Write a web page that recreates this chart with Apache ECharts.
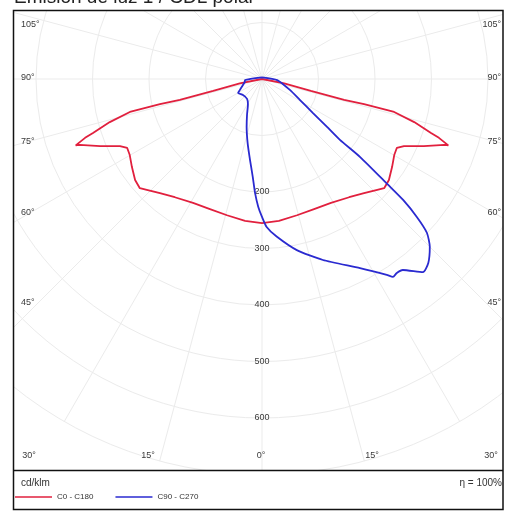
<!DOCTYPE html>
<html><head><meta charset="utf-8">
<script src="https://cdn.jsdelivr.net/npm/echarts@6/dist/echarts.min.js"></script>
<style>html,body{margin:0;padding:0;background:#fff}#c{width:509px;height:512px}</style>
</head><body><div id="c"></div>
<script>
// C0 - C180 half profile (symmetric): angle from nadir (deg), intensity (cd/klm)
const redAngles = [0, 6.8, 14.4, 21.8, 29.1, 36.4, 41.8, 45.8, 48.2, 51.5, 55.9, 60.1, 62.9, 64.7, 67.5, 70.1, 70.4, 71.6, 72.3, 74.2, 76, 76.2, 75.8, 76.3, 79, 90];
const redValues = [255, 253, 249, 248, 251, 260, 271, 282, 290, 287, 278, 270, 268, 278, 310, 343, 350, 330, 314, 280, 241, 186, 150, 89, 40, 0];
// C90 - C270 path: signed angle (negative = left side), intensity (cd/klm)
const blueAngles = [180, -86.6, -80, -63.4, -59.7, -50, -36.9, -29.2, -22.6, -17.8, -12.5, -8.4, -5.4, -3.5, -1.7, 0, 1.8, 5.3, 11.5, 18.6, 27.4, 32.5, 33.5, 34.8, 36.4, 39.8, 42.1, 45, 47, 48.3, 49.4, 50, 51.5, 52, 53.6, 56.3, 61, 68.6, 86, 180];
const blueValues = [3, 30, 31, 44, 49, 44, 44, 51, 69, 89, 117, 145, 174, 202, 226, 244, 262, 280, 309, 338, 377, 411, 420, 418, 420, 445, 439, 420, 399, 367, 329, 291, 222, 175, 143, 108, 77, 53, 27, 3];
const radialTicks = [200, 300, 400, 500, 600];
const sideAngleLabels = ['105°', '90°', '75°', '60°', '45°'];
const bottomAngleLabels = ['30°', '15°', '0°', '15°', '30°'];
const seriesNames = ['C0 - C180', 'C90 - C270'];
const titleText = 'Emisión de luz 1 / CDL polar';
const unitText = 'cd/klm';
const effText = 'η = 100%';

const toAxis = a => (a < 0 ? 360 + a : a);
const half = redAngles.map((a, i) => [redValues[i], a]);
const redData = [
  ...half.slice().reverse().map(([v, a]) => [v, a === 0 ? 0 : 360 - a]),
  ...half.slice(1).map(([v, a]) => [v, a])
];
const blueData = blueAngles.map((a, i) => [blueValues[i], toAxis(a)]);

const FONT = '"Liberation Sans", Arial, sans-serif';
const sideY = [25, 78, 142, 213, 303];
const bottomX = [29, 148, 261, 372, 491];
const txt = (text, x, y, align, size, color) => ({
  type: 'text', z: 60, silent: true,
  style: { text, x, y, align, verticalAlign: 'middle', font: size + 'px ' + FONT, fill: color || '#3a3a3a' }
});
const graphics = [
  { type: 'rect', z: 50, silent: true, shape: { x: 0, y: 0, width: 509, height: 10 }, style: { fill: '#fff' } },
  { type: 'rect', z: 50, silent: true, shape: { x: 0, y: 0, width: 13, height: 512 }, style: { fill: '#fff' } },
  { type: 'rect', z: 50, silent: true, shape: { x: 503, y: 0, width: 6, height: 512 }, style: { fill: '#fff' } },
  { type: 'rect', z: 50, silent: true, shape: { x: 0, y: 470, width: 509, height: 42 }, style: { fill: '#fff' } },
  { type: 'rect', z: 55, silent: true, shape: { x: 13.5, y: 10.5, width: 489.5, height: 499 }, style: { fill: 'none', stroke: '#111', lineWidth: 1.5 } },
  { type: 'line', z: 55, silent: true, shape: { x1: 13.5, y1: 470.5, x2: 503, y2: 470.5 }, style: { stroke: '#111', lineWidth: 1.5 } },
  txt(titleText, 14, -2, 'left', 19, '#222'),
  txt(unitText, 21, 483, 'left', 10, '#333'),
  txt(effText, 502, 483, 'right', 10, '#333')
];
sideAngleLabels.forEach((t, i) => {
  graphics.push(txt(t, 21, sideY[i], 'left', 9));
  graphics.push(txt(t, 501, sideY[i], 'right', 9));
});
bottomAngleLabels.forEach((t, i) => graphics.push(txt(t, bottomX[i], 456, 'center', 9)));

const chart = echarts.init(document.getElementById('c'), null, { renderer: 'canvas' });
chart.setOption({
  animation: false,
  backgroundColor: '#fff',
  polar: { center: [262, 79], radius: 395.5 },
  angleAxis: {
    type: 'value', min: 0, max: 360, interval: 15, startAngle: 270, clockwise: false,
    axisLine: { show: false }, axisTick: { show: false }, axisLabel: { show: false },
    splitLine: { show: true, lineStyle: { color: '#ebebeb', width: 1 } }
  },
  radiusAxis: {
    type: 'value', min: 0, max: 700, interval: 100,
    axisLine: { show: false }, axisTick: { show: false },
    splitLine: { show: true, lineStyle: { color: '#ebebeb', width: 1 } },
    axisLabel: {
      margin: 0, align: 'center', verticalAlign: 'middle', fontSize: 9, color: '#3a3a3a', fontFamily: FONT,
      formatter: v => (radialTicks.includes(v) ? String(v) : '')
    }
  },
  legend: {
    left: 15, top: 493, icon: 'rect', itemWidth: 37, itemHeight: 1.5, itemGap: 22, padding: 0, z: 60,
    textStyle: { fontSize: 8, color: '#333', fontFamily: FONT }, data: seriesNames, selectedMode: false
  },
  series: [
    { type: 'line', name: seriesNames[0], coordinateSystem: 'polar', data: redData, symbol: 'none',
      lineStyle: { color: '#e1203e', width: 1.8 }, itemStyle: { color: '#e1203e' } },
    { type: 'line', name: seriesNames[1], coordinateSystem: 'polar', data: blueData, symbol: 'none', smooth: 0.2,
      lineStyle: { color: '#2a2ad0', width: 1.8 }, itemStyle: { color: '#2a2ad0' } }
  ],
  graphic: { elements: graphics }
});
</script></body></html>
